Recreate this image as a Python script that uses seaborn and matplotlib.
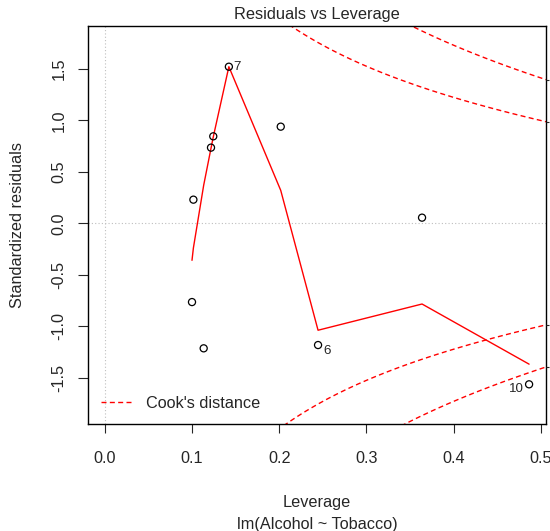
import numpy as np
import pandas as pd
import matplotlib
matplotlib.use("Agg")
import matplotlib.pyplot as plt
from matplotlib.lines import Line2D
import seaborn as sns

# leverage / standardized residuals
leverage = [0.1422, 0.1243, 0.1217, 0.2017, 0.1015, 0.3638, 0.0999, 0.1133, 0.2445, 0.4866]
std_resid = [1.523, 0.846, 0.736, 0.940, 0.230, 0.055, -0.766, -1.216, -1.184, -1.566]
obs_id = [7, 2, 3, 4, 1, 9, 5, 8, 6, 10]
shown_ids = [7, 6, 10]

# red smoother, one value per sorted leverage
smooth_lev = [0.0999, 0.1015, 0.1133, 0.1217, 0.1243, 0.1422, 0.2017, 0.2445, 0.3638, 0.4866]
smooth_fit = [-0.36, -0.24, 0.37, 0.73, 0.84, 1.523, 0.32, -1.04, -0.785, -1.37]

cook_levels = [0.5, 1.0]
n_coef = 2

x_ticks = [0.0, 0.1, 0.2, 0.3, 0.4, 0.5]
y_ticks = [-1.5, -1.0, -0.5, 0.0, 0.5, 1.0, 1.5]
xlim = (-0.0194, 0.506)
ylim = (-1.952, 1.919)

sns.set_style("white")
plt.rcParams["font.family"] = ["Liberation Sans", "DejaVu Sans"]

W, H = 550, 531
fig = plt.figure(figsize=(W / 100, H / 100), dpi=100)
ax = fig.add_axes([88 / W, 1 - 424 / H, (546 - 88) / W, (424 - 26) / H])

df = pd.DataFrame({"leverage": leverage, "resid": std_resid, "id": obs_id})

grey_dot = dict(color="#bebebe", lw=0.8, ls=(0, (1, 2)), zorder=0)
ax.axhline(0, **grey_dot)
ax.axvline(0, **grey_dot)

sns.lineplot(x=smooth_lev, y=smooth_fit, ax=ax, color="red", lw=1.0,
             estimator=None, sort=False)

# Cook's distance contours
hh = np.linspace(min(min(leverage), max(leverage) / 100), xlim[1], 101)
dash = (0, (3.6, 2.4))
right_ticks = []
for lvl in cook_levels:
    cl = np.sqrt(lvl * n_coef * (1 - hh) / hh)
    for sgn in (1, -1):
        ax.plot(hh, sgn * cl, color="red", lw=1.0, ls=dash)
        right_ticks.append(sgn * cl[-1])

sns.scatterplot(data=df, x="leverage", y="resid", ax=ax, s=26, marker="o",
                fc="none", ec="black", linewidth=0.9, zorder=3)

offsets = {7: (3, 0, "left"), 6: (4, -4, "left"), 10: (-4, -3.4, "right")}
for _, r in df[df["id"].isin(shown_ids)].iterrows():
    dx, dy, ha = offsets[int(r["id"])]
    ax.annotate(str(int(r["id"])), (r["leverage"], r["resid"]), xytext=(dx, dy),
                textcoords="offset points", ha=ha, va="center", fontsize=9.6)

ax.set_xlim(*xlim)
ax.set_ylim(*ylim)
ax.set_xticks(x_ticks)
ax.set_xticklabels([f"{v:.1f}" for v in x_ticks])
ax.set_yticks(y_ticks)
ax.set_yticklabels([f"{v:.1f}" for v in y_ticks], rotation=90, va="center")
ax.tick_params(axis="x", direction="out", length=6.5, width=0.8, labelsize=11.7, pad=13)
ax.tick_params(axis="y", direction="out", length=7, width=0.8, labelsize=11.7, pad=8.5)
ax.tick_params(left=True, bottom=True)
ax.set_xlabel("")
ax.set_ylabel("")
for s in ax.spines.values():
    s.set_color("black")
    s.set_linewidth(1.0)

# small marks on the right edge where the Cook's contours meet it
ax2 = ax.twinx()
ax2.set_ylim(*ylim)
ax2.set_yticks(right_ticks)
ax2.set_yticklabels([])
ax2.tick_params(axis="y", direction="out", length=2, width=0.8, pad=1)
for s in ax2.spines.values():
    s.set_visible(False)

ax.legend(handles=[Line2D([], [], color="red", lw=1.0, ls=dash)],
          labels=["Cook's distance"], loc="lower left", frameon=False,
          fontsize=11.7, handlelength=1.9, handletextpad=0.9,
          borderaxespad=0.3, borderpad=0.5)

cx = 317 / W
fig.text(cx, 1 - 14 / H, "Residuals vs Leverage", ha="center", va="center", fontsize=11.8)
fig.text(cx, 1 - 503 / H, "Leverage", ha="center", va="center", fontsize=11.7)
fig.text(cx, 1 - 524.5 / H, "lm(Alcohol ~ Tobacco)", ha="center", va="center", fontsize=11.7)
fig.text(18 / W, 1 - 225 / H, "Standardized residuals", ha="center", va="center",
         rotation=90, fontsize=11.7)

fig.savefig("out.png", dpi=100)
